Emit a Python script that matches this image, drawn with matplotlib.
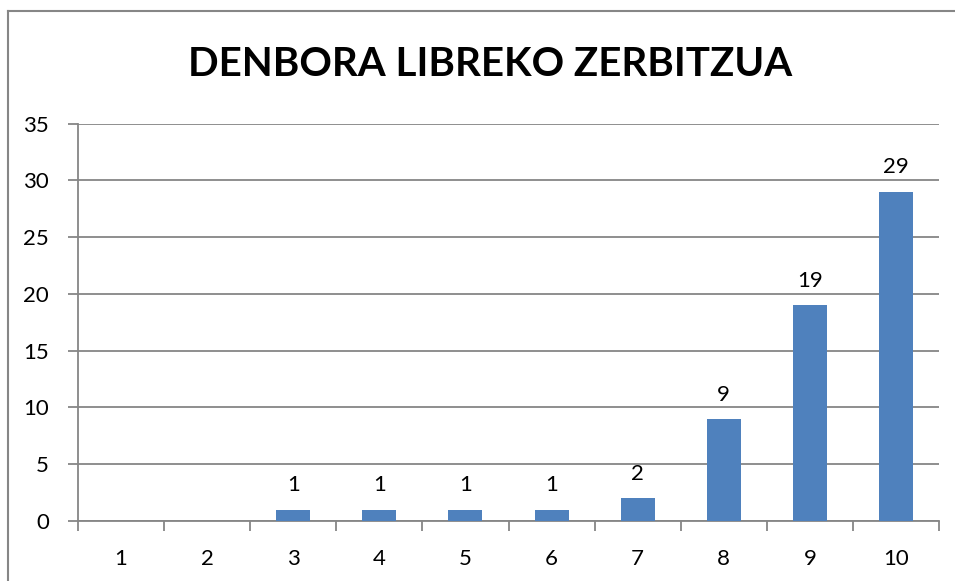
import matplotlib
matplotlib.use('Agg')
import numpy as np
import matplotlib.pyplot as plt
from matplotlib.lines import Line2D

matplotlib.rcParams['font.family'] = ['Lato', 'DejaVu Sans']

categories = ['1', '2', '3', '4', '5', '6', '7', '8', '9', '10']
values = [0, 0, 1, 1, 1, 1, 2, 9, 19, 29]
title = 'DENBORA LIBREKO ZERBITZUA'

W, H = 955, 581
fig = plt.figure(figsize=(W / 100, H / 100), dpi=100)
ax = fig.add_axes([78 / W, 1 - 521 / H, (939 - 78) / W, (521 - 123.5) / H])

grey = '#868686'
idx = np.arange(len(categories))
bars = ax.bar(idx, values, 0.395, color='#4F81BD', zorder=3)

for i, v in enumerate(values):
    if v > 0:
        ax.text(i, v + 1.25, str(v), ha='center', va='bottom', fontsize=16)

ax.set_xlim(-0.5, len(categories) - 0.5)
ax.set_ylim(0, 35)
ax.set_yticks(range(0, 36, 5))
ax.set_xticks(idx)
ax.set_xticklabels(categories)
ax.set_xticks(np.arange(-0.5, len(categories)), minor=True)
ax.tick_params(axis='x', which='major', length=0, pad=20, labelsize=16)
ax.tick_params(axis='x', which='minor', length=7, color=grey, width=1.3)
ax.tick_params(axis='y', length=7, color=grey, width=1.3, pad=14, labelsize=16)

ax.yaxis.grid(True, color=grey, linewidth=1.3, zorder=0)
for s in ['top', 'right']:
    ax.spines[s].set_visible(False)
for s in ['left', 'bottom']:
    ax.spines[s].set_color(grey)
    ax.spines[s].set_linewidth(1.3)

fig.text(490 / W, 1 - 65 / H, title, ha='center', va='center',
         fontsize=29, fontweight='bold')

# chart frame (left and top edges visible)
fig.add_artist(Line2D([8 / W, 8 / W], [0, 1 - 11 / H], color=grey, lw=1.5,
                      transform=fig.transFigure))
fig.add_artist(Line2D([8 / W, 1], [1 - 11 / H, 1 - 11 / H], color=grey, lw=1.5,
                      transform=fig.transFigure))

fig.savefig('out.png', dpi=100)
